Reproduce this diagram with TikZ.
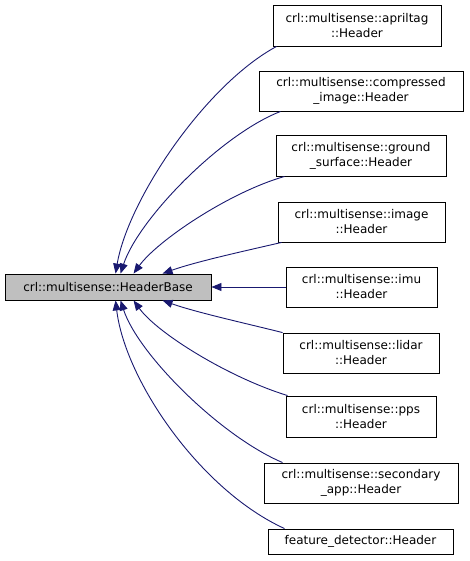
\documentclass[tikz,border=0pt]{standalone}
\usepackage{fontspec}
\setmainfont{DejaVu Sans}
\usetikzlibrary{arrows.meta}
\definecolor{edgeblue}{HTML}{191970}
\definecolor{basegray}{HTML}{BFBFBF}
\begin{document}
\begin{tikzpicture}[x=1pt,y=-1pt,
  box/.style={draw=black, line width=0.9pt, fill=white, inner sep=0pt, align=center, font=\fontsize{12}{15}\selectfont},
  edge/.style={draw=edgeblue, line width=0.9pt, -{Triangle[length=10pt,width=8pt]}}]
\useasboundingbox (0,0) rectangle (469,561);
\node[box, fill=basegray, minimum width=206pt, minimum height=26pt] (base) at (108,287) {crl::multisense::HeaderBase};
\node[box, minimum width=168pt, minimum height=41pt] (apriltag) at (357,25.5) {crl::multisense::apriltag\\::Header};
\node[box, minimum width=204pt, minimum height=40pt] (compressed) at (361,91) {crl::multisense::compressed\\\_image::Header};
\node[box, minimum width=170pt, minimum height=41pt] (ground) at (361,155.5) {crl::multisense::ground\\\_surface::Header};
\node[box, minimum width=167pt, minimum height=40pt] (image) at (361.5,222) {crl::multisense::image\\::Header};
\node[box, minimum width=151pt, minimum height=40pt] (imu) at (361.5,287) {crl::multisense::imu\\::Header};
\node[box, minimum width=156pt, minimum height=40pt] (lidar) at (361,353) {crl::multisense::lidar\\::Header};
\node[box, minimum width=150pt, minimum height=41pt] (pps) at (361,416.5) {crl::multisense::pps\\::Header};
\node[box, minimum width=194pt, minimum height=40pt] (secondary) at (361,483) {crl::multisense::secondary\\\_app::Header};
\node[box, minimum width=185pt, minimum height=25pt] (feature) at (360.5,541.5) {feature\_detector::Header};

\draw[edge] ([xshift=4pt]apriltag.south west) .. controls (205,85) and (128,200) .. ([xshift=111pt]base.north west);
\draw[edge] ([xshift=22pt]compressed.south west) .. controls (220,135) and (138,220) .. ([xshift=116pt]base.north west);
\draw[edge] ([xshift=9pt]ground.south west) .. controls (230,192) and (158,240) .. ([xshift=129pt]base.north west);
\draw[edge] ([xshift=4pt]image.south west) .. controls (240,252) and (195,262) .. ([xshift=158pt]base.north west);
\draw[edge] (imu.west) -- (base.east);
\draw[edge] (lidar.north west) .. controls (240,322) and (195,312) .. ([xshift=158pt]base.south west);
\draw[edge] ([xshift=2pt]pps.north west) .. controls (230,378) and (158,334) .. ([xshift=129pt]base.south west);
\draw[edge] ([xshift=19pt]secondary.north west) .. controls (220,436) and (138,354) .. ([xshift=116pt]base.south west);
\draw[edge] ([xshift=17pt]feature.north west) .. controls (200,490) and (125,380) .. ([xshift=111pt]base.south west);
\end{tikzpicture}
\end{document}
